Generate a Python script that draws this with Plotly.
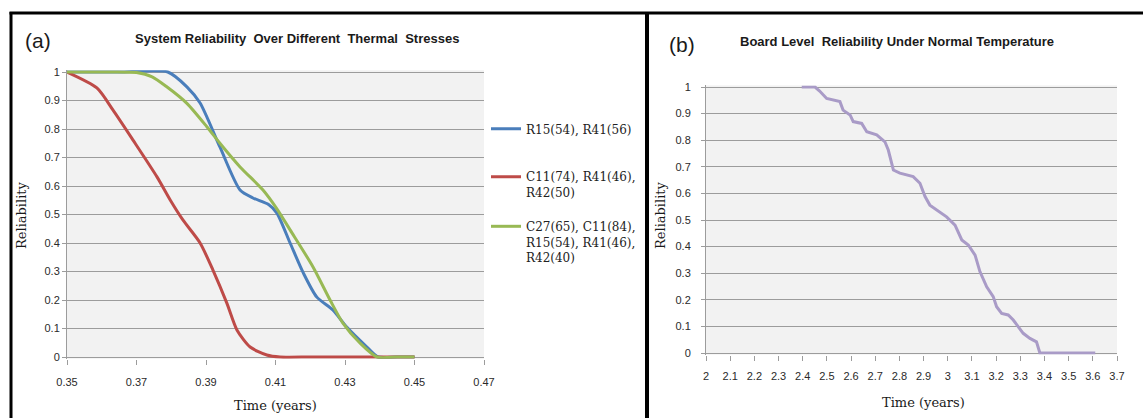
import plotly.graph_objects as go

# ---- Panel (a): system reliability under thermal stresses ----
blue_name = "R15(54), R41(56)"
blue_t = [0.35, 0.365, 0.379, 0.3845, 0.3883, 0.394, 0.3998, 0.4035, 0.4080, 0.4104, 0.4142,
          0.418, 0.4219, 0.4265, 0.4305, 0.4363, 0.4395, 0.445, 0.45]
blue_r = [1, 1, 1, 0.948, 0.891, 0.737, 0.586, 0.558, 0.535, 0.505, 0.40,
          0.295, 0.21, 0.165, 0.105, 0.035, 0, 0, 0]

red_name = "C11(74), R41(46),<br>R42(50)"
red_t = [0.35, 0.3586, 0.3632, 0.369, 0.3759, 0.3797, 0.3834, 0.3883, 0.392, 0.396,
         0.3989, 0.4027, 0.4075, 0.4113, 0.42, 0.43, 0.44, 0.45]
red_r = [1, 0.944, 0.867, 0.761, 0.632, 0.551, 0.48, 0.40, 0.305, 0.189,
         0.095, 0.035, 0.007, 0, 0, 0, 0, 0]

green_name = "C27(65), C11(84),<br>R15(54), R41(46),<br>R42(40)"
green_t = [0.35, 0.362, 0.370, 0.3745, 0.3787, 0.3845, 0.3903, 0.394, 0.3998, 0.4064, 0.4104,
           0.4142, 0.4208, 0.4257, 0.4294, 0.4343, 0.4392, 0.445, 0.45]
green_r = [1, 1, 0.998, 0.983, 0.948, 0.89, 0.807, 0.75, 0.667, 0.586, 0.52,
           0.446, 0.316, 0.2, 0.119, 0.049, 0, 0, 0]

a_xticks = [0.35, 0.37, 0.39, 0.41, 0.43, 0.45, 0.47]
a_xlabels = ["0.35", "0.37", "0.39", "0.41", "0.43", "0.45", "0.47"]

# ---- Panel (b): board level reliability, normal temperature ----
b_t = [2.396, 2.451, 2.47, 2.499, 2.554, 2.567, 2.596, 2.609, 2.644, 2.665, 2.706,
       2.74, 2.754, 2.775, 2.802, 2.857, 2.885, 2.906, 2.926, 2.954, 2.995, 3.03,
       3.058, 3.085, 3.113, 3.133, 3.161, 3.188, 3.202, 3.223, 3.25, 3.271, 3.291,
       3.312, 3.34, 3.367, 3.381, 3.45, 3.61]
b_r = [1.0, 1.0, 0.985, 0.957, 0.945, 0.913, 0.895, 0.87, 0.863, 0.832, 0.82,
       0.794, 0.763, 0.688, 0.676, 0.663, 0.638, 0.588, 0.556, 0.538, 0.512, 0.481,
       0.425, 0.406, 0.368, 0.306, 0.249, 0.212, 0.174, 0.149, 0.143, 0.124, 0.099,
       0.074, 0.055, 0.042, 0.0, 0.0, 0.0]

b_xticks = [2.0, 2.1, 2.2, 2.3, 2.4, 2.5, 2.6, 2.7, 2.8, 2.9, 3.0, 3.1, 3.2, 3.3, 3.4, 3.5, 3.6, 3.7]
b_xlabels = ["2", "2.1", "2.2", "2.3", "2.4", "2.5", "2.6", "2.7", "2.8", "2.9",
             "3", "3.1", "3.2", "3.3", "3.4", "3.5", "3.6", "3.7"]

y_ticks = [0, 0.1, 0.2, 0.3, 0.4, 0.5, 0.6, 0.7, 0.8, 0.9, 1]
y_labels = ["0", "0.1", "0.2", "0.3", "0.4", "0.5", "0.6", "0.7", "0.8", "0.9", "1"]

W, H = 1143, 418
PAD = 0.006  # small headroom so lines lying on 0 / 1 are not clipped


def xdom(px0, px1):
    return [px0 / W, px1 / W]


def ydom(py_top, py_bottom):
    # py_top / py_bottom are the pixel rows of values 1 and 0
    per = py_bottom - py_top
    top = py_top - PAD * per
    bot = py_bottom + PAD * per
    return [(H - bot) / H, (H - top) / H]


BLUE = "#4a7ebb"
RED = "#be4b48"
GREEN = "#98b954"
LILAC = "#a99bc7"
GRID = "#9c9c9c"
TICKFONT = dict(family="Liberation Sans, Arial, sans-serif", size=11, color="#2a2a2a")
SERIF = "DejaVu Serif, serif"
TITLEFONT = "Liberation Sans Narrow, Liberation Sans, Arial, sans-serif"

fig = go.Figure()

fig.add_trace(go.Scatter(x=blue_t, y=blue_r, name=blue_name, mode="lines",
                         line=dict(color=BLUE, width=3, shape="spline", smoothing=0.7),
                         xaxis="x", yaxis="y", legend="legend"))
fig.add_trace(go.Scatter(x=red_t, y=red_r, name=red_name, mode="lines",
                         line=dict(color=RED, width=3, shape="spline", smoothing=0.7),
                         xaxis="x", yaxis="y", legend="legend2"))
fig.add_trace(go.Scatter(x=green_t, y=green_r, name=green_name, mode="lines",
                         line=dict(color=GREEN, width=3, shape="spline", smoothing=0.7),
                         xaxis="x", yaxis="y", legend="legend3"))
fig.add_trace(go.Scatter(x=b_t, y=b_r, name="Board", mode="lines", showlegend=False,
                         line=dict(color=LILAC, width=3),
                         xaxis="x2", yaxis="y2"))

common_x = dict(showgrid=False, ticks="outside", ticklen=5, tickcolor=GRID,
                showline=False, zeroline=False, tickfont=TICKFONT, tickmode="array",
                automargin=False)
common_y = dict(showgrid=True, gridcolor=GRID, gridwidth=1, ticks="outside", ticklen=4,
                tickcolor=GRID, showline=True, linecolor=GRID, linewidth=1,
                zeroline=False, tickfont=TICKFONT, tickmode="array",
                tickvals=y_ticks, ticktext=y_labels, range=[-PAD, 1 + PAD],
                automargin=False)

fig.update_layout(
    width=W, height=H,
    margin=dict(l=0, r=0, t=0, b=0, pad=0),
    paper_bgcolor="white",
    plot_bgcolor="#f2f2f2",
    xaxis=dict(domain=xdom(67, 484), range=[0.35, 0.47], tickvals=a_xticks,
               ticktext=a_xlabels, anchor="y", ticklabelstandoff=8, **common_x),
    yaxis=dict(domain=ydom(72, 357), anchor="x", **common_y),
    xaxis2=dict(domain=xdom(706, 1117), range=[2.0, 3.7], tickvals=b_xticks,
                ticktext=b_xlabels, anchor="y2", ticklabelstandoff=6, **common_x),
    yaxis2=dict(domain=ydom(87, 353), anchor="x2", ticklabelstandoff=8, **common_y),
    legend=dict(x=486 / W, y=(H - 129) / H, xanchor="left", yanchor="middle",
                font=dict(family=SERIF, size=12, color="#222"), bgcolor="rgba(0,0,0,0)",
                valign="top", itemwidth=30),
    legend2=dict(x=486 / W, y=(H - 185) / H, xanchor="left", yanchor="middle",
                 font=dict(family=SERIF, size=12, color="#222"), bgcolor="rgba(0,0,0,0)",
                 valign="top", itemwidth=30),
    legend3=dict(x=486 / W, y=(H - 242) / H, xanchor="left", yanchor="middle",
                 font=dict(family=SERIF, size=12, color="#222"), bgcolor="rgba(0,0,0,0)",
                 valign="top", itemwidth=30),
)

# frame lines around the two panels
frame = dict(color="black", width=3)
fig.add_shape(type="line", xref="paper", yref="paper", x0=9.5 / W, x1=1, y0=(H - 13) / H,
              y1=(H - 13) / H, line=frame)
fig.add_shape(type="line", xref="paper", yref="paper", x0=11 / W, x1=11 / W, y0=0,
              y1=(H - 12) / H, line=frame)
fig.add_shape(type="line", xref="paper", yref="paper", x0=647 / W, x1=647 / W, y0=0,
              y1=(H - 12) / H, line=dict(color="black", width=4))


def note(text, px, py, size, family, color="#1a1a1a", bold=False, angle=0):
    fig.add_annotation(text=f"<b>{text}</b>" if bold else text, xref="paper", yref="paper",
                       x=px / W, y=(H - py) / H, xanchor="center", yanchor="middle",
                       showarrow=False, textangle=angle,
                       font=dict(family=family, size=size, color=color))


note("(a)", 38, 40, 21, "Liberation Sans Narrow, Liberation Sans, sans-serif")
note("(b)", 682, 45, 21, "Liberation Sans Narrow, Liberation Sans, sans-serif")
note("System Reliability  Over Different  Thermal  Stresses", 297, 38, 13, TITLEFONT, bold=True)
note("Board Level  Reliability Under Normal Temperature", 897, 42, 13, TITLEFONT, bold=True)
note("Reliability", 22, 215, 13, SERIF, angle=-90)
note("Reliability", 661, 215, 13, SERIF, angle=-90)
note("Time (years)", 275, 405, 13, SERIF)
note("Time (years)", 923, 402, 13, SERIF)

fig.write_html("out.html")
